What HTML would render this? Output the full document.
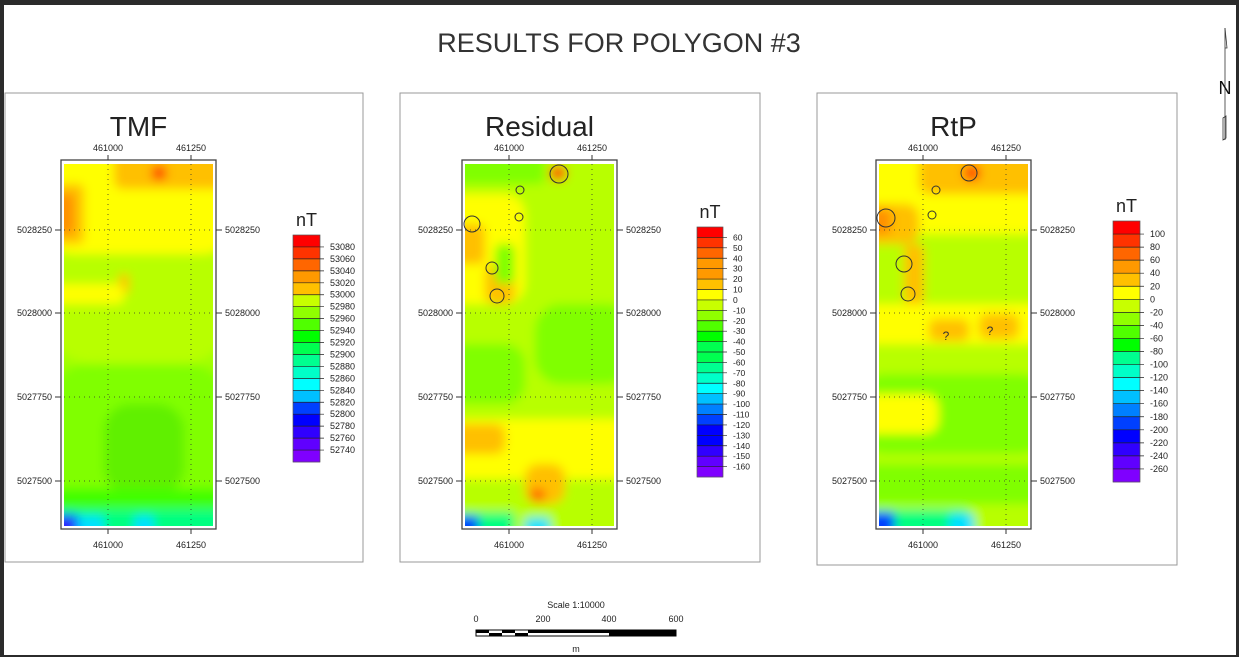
<!DOCTYPE html>
<html><head><meta charset="utf-8"><style>
html,body{margin:0;padding:0;background:#fff}
body{width:1239px;height:657px;position:relative;overflow:hidden;font-family:"Liberation Sans",sans-serif}
</style></head><body>
<svg id="s" width="1239" height="657" viewBox="0 0 1239 657" xmlns="http://www.w3.org/2000/svg" font-family="Liberation Sans, sans-serif">
<defs>
<filter id="b" x="-20%" y="-20%" width="140%" height="140%"><feGaussianBlur stdDeviation="5"/></filter>
</defs>
<rect x="0" y="0" width="1239" height="5" fill="#2b2b2b"/>
<rect x="0" y="0" width="4" height="657" fill="#2b2b2b"/>
<rect x="1236" y="0" width="3" height="657" fill="#2b2b2b"/>
<rect x="0" y="655" width="1239" height="2" fill="#2b2b2b"/>
<text x="619" y="52" font-size="27" text-anchor="middle" fill="#333">RESULTS FOR POLYGON #3</text>
<g stroke="#333" fill="none" stroke-width="0.8">
<line x1="1225" y1="28" x2="1225" y2="140"/>
<path d="M1225 28 L1227 48 L1225 48"/>
<path d="M1223 118 L1226 116 L1226 138 L1223 140 Z"/>
</g>
<text x="1225" y="94" font-size="18" text-anchor="middle" fill="#111">N</text>
<text x="576" y="608" font-size="9" text-anchor="middle" fill="#222">Scale 1:10000</text>
<g font-size="9" fill="#222" text-anchor="middle"><text x="476" y="622">0</text><text x="543" y="622">200</text><text x="609" y="622">400</text><text x="676" y="622">600</text></g>
<rect x="476" y="630" width="200" height="6" fill="#fff" stroke="#000" stroke-width="1"/>
<g fill="#000"><rect x="476" y="630" width="13" height="3"/><rect x="502" y="630" width="13" height="3"/><rect x="489" y="633" width="13" height="3"/><rect x="515" y="633" width="13" height="3"/><rect x="528" y="630" width="15" height="3"/><rect x="543" y="630" width="66" height="3"/><rect x="609" y="630" width="67" height="6"/></g>
<text x="576" y="652" font-size="9" text-anchor="middle" fill="#222">m</text>
<g id="p"></g>
</svg>
<script>
const P=[
{bx:5,by:93,bw:358,bh:469,fx:61,title:"TMF",lx:293,ly:235,lw:27,lh:227,nb:19,base:"#a0ff00",
 labels:[53080,53060,53040,53020,53000,52980,52960,52940,52920,52900,52880,52860,52840,52820,52800,52780,52760,52740],
 blobs:[["#b8ff00",0,0,148,200],["#ffff00",0,0,148,90],["#ffc000",50,0,98,25],["#ffc000",0,20,20,60],["#ff9000",0,30,10,40],["#ff3000",88,2,14,14],["#ffc000",55,110,10,20],["#ff9000",25,125,14,12],["#ffff00",0,120,60,20],["#80ff00",0,200,148,140],["#60f000",40,240,80,90],["#40ff00",0,325,148,37],["#00ff80",0,345,148,17],["#00e0ff",10,352,30,10],["#00e0ff",70,352,20,10],["#0040ff",0,350,14,12],["#3020ff",0,354,8,8]]},
{bx:400,by:93,bw:360,bh:469,fx:462,title:"Residual",lx:697,ly:227,lw:26,lh:250,nb:24,base:"#b0ff00",
 labels:[60,50,40,30,20,10,0,-10,-20,-30,-40,-50,-60,-70,-80,-90,-100,-110,-120,-130,-140,-150,-160],
 blobs:[["#b8ff00",0,0,148,362],["#ffff00",0,30,60,110],["#80ff00",0,0,80,20],["#ffc000",0,60,20,40],["#ffc000",20,100,30,40],["#80ff00",30,80,20,40],["#80ff00",70,140,78,80],["#80ff00",0,180,60,60],["#ffff00",0,255,148,60],["#ffc000",0,260,40,30],["#ffc000",60,300,40,40],["#ff3000",85,2,16,14],["#ff6000",65,325,15,12],["#00ff80",0,348,50,14],["#0040ff",0,352,14,10],["#00e0ff",60,354,25,8]],
 circles:[[472,224,8],[492,268,6],[497,296,7],[520,190,4],[519,217,4],[559,174,9]]},
{bx:817,by:93,bw:360,bh:472,fx:876,title:"RtP",lx:1113,ly:221,lw:27,lh:261,nb:20,base:"#b0ff00",
 labels:[100,80,60,40,20,0,-20,-40,-60,-80,-100,-120,-140,-160,-180,-200,-220,-240,-260],
 blobs:[["#b8ff00",0,0,148,362],["#ffff00",0,0,148,70],["#ffc000",40,0,108,30],["#ffc000",0,40,40,40],["#ff9000",0,45,12,25],["#ffc000",25,80,20,60],["#ffff00",0,140,148,40],["#ffc000",50,155,40,22],["#ffc000",100,150,40,25],["#ff3000",85,2,16,14],["#80ff00",0,210,148,80],["#ffff00",0,230,60,40],["#80ff00",0,300,148,40],["#00ff80",0,345,90,17],["#0040ff",0,348,16,14],["#00e0ff",70,350,25,12]],
 circles:[[886,218,9],[904,264,8],[908,294,7],[936,190,4],[932,215,4],[969,173,8]],q:[[946,340],[990,335]]}
];
const cols=["#ff0000","#ff3300","#ff6600","#ff9900","#ffc000","#ffff00","#c8ff00","#90ff00","#50ff00","#00ff00","#00ff50","#00ff90","#00ffc8","#00ffff","#00c0ff","#0080ff","#0040ff","#0000ff","#3000ff","#6000ff","#7f00ff"];
let h="";
const sy=[[5028250,230],[5028000,313],[5027750,397],[5027500,481]];
P.forEach((p,i)=>{
 h+=`<rect x="${p.bx}" y="${p.by}" width="${p.bw}" height="${p.bh}" fill="#fff" stroke="#999" stroke-width="1"/>`;
 const fx=p.fx, fy=160, fw=155, fh=369, ix=fx+3, iy=164, iw=149, ih=362;
 h+=`<text x="${fx+fw/2}" y="136" font-size="28" text-anchor="middle" fill="#222">${p.title}</text>`;
 h+=`<clipPath id="c${i}"><rect x="${ix}" y="${iy}" width="${iw}" height="${ih}"/></clipPath>`;
 h+=`<g clip-path="url(#c${i})"><rect x="${ix}" y="${iy}" width="${iw}" height="${ih}" fill="${p.base}"/><g filter="url(#b)">`;
 p.blobs.forEach(b=>{let x=b[1],y=b[2],w=b[3],hh=b[4];
  if(x<=0){x-=20;w+=20} if(x+w>=148)w+=20; if(y<=0){y-=20;hh+=20} if(y+hh>=362)hh+=20;
  h+=`<rect x="${ix+x}" y="${iy+y}" width="${w}" height="${hh}" rx="${Math.min(b[3],b[4])/3}" fill="${b[0]}"/>`});
 h+=`</g></g>`;
 h+=`<rect x="${fx}" y="${fy}" width="${fw}" height="${fh}" fill="none" stroke="#444" stroke-width="1.3"/>`;
 const t1=fx+47,t2=fx+130;
 [[t1,"461000"],[t2,"461250"]].forEach(t=>{
  h+=`<line x1="${t[0]}" y1="${iy}" x2="${t[0]}" y2="${iy+ih}" stroke="#333" stroke-width="0.8" stroke-dasharray="1 4"/>`;
  h+=`<line x1="${t[0]}" y1="${fy-5}" x2="${t[0]}" y2="${fy}" stroke="#333"/><line x1="${t[0]}" y1="${fy+fh}" x2="${t[0]}" y2="${fy+fh+5}" stroke="#333"/>`;
  h+=`<text x="${t[0]}" y="151" font-size="9" text-anchor="middle" fill="#222">${t[1]}</text><text x="${t[0]}" y="548" font-size="9" text-anchor="middle" fill="#222">${t[1]}</text>`;
 });
 sy.forEach(s=>{
  h+=`<line x1="${ix}" y1="${s[1]}" x2="${ix+iw}" y2="${s[1]}" stroke="#333" stroke-width="0.8" stroke-dasharray="1 4"/>`;
  h+=`<line x1="${fx-6}" y1="${s[1]}" x2="${fx}" y2="${s[1]}" stroke="#333"/><line x1="${fx+fw}" y1="${s[1]}" x2="${fx+fw+6}" y2="${s[1]}" stroke="#333"/>`;
  h+=`<text x="${fx-9}" y="${s[1]+3}" font-size="9" text-anchor="end" fill="#222">${s[0]}</text><text x="${fx+fw+9}" y="${s[1]+3}" font-size="9" fill="#222">${s[0]}</text>`;
 });
 (p.circles||[]).forEach(c=>{h+=`<circle cx="${c[0]}" cy="${c[1]}" r="${c[2]}" fill="none" stroke="#333" stroke-width="1"/>`});
 (p.q||[]).forEach(c=>{h+=`<text x="${c[0]}" y="${c[1]}" font-size="12" text-anchor="middle" fill="#333">?</text>`});
 const bh=p.lh/p.nb;
 h+=`<text x="${p.lx+p.lw/2}" y="${p.ly-9}" font-size="18" text-anchor="middle" fill="#222">nT</text>`;
 for(let k=0;k<p.nb;k++){
  const ci=Math.round(k*(cols.length-1)/(p.nb-1));
  h+=`<rect x="${p.lx}" y="${p.ly+k*bh}" width="${p.lw}" height="${bh+0.3}" fill="${cols[ci]}"/>`;
 }
 h+=`<rect x="${p.lx}" y="${p.ly}" width="${p.lw}" height="${p.lh}" fill="none" stroke="#555" stroke-width="0.7"/>`;
 p.labels.forEach((l,k)=>{const y=p.ly+(k+1)*bh;
  h+=`<line x1="${p.lx}" y1="${y}" x2="${p.lx+p.lw+4}" y2="${y}" stroke="#222" stroke-width="0.7"/>`;
  h+=`<text x="${p.lx+p.lw+10}" y="${y+3}" font-size="${p.nb>20?8.5:9}" fill="#222">${l}</text>`;
 });
});
document.getElementById("p").innerHTML=h;
</script>
</body></html>
